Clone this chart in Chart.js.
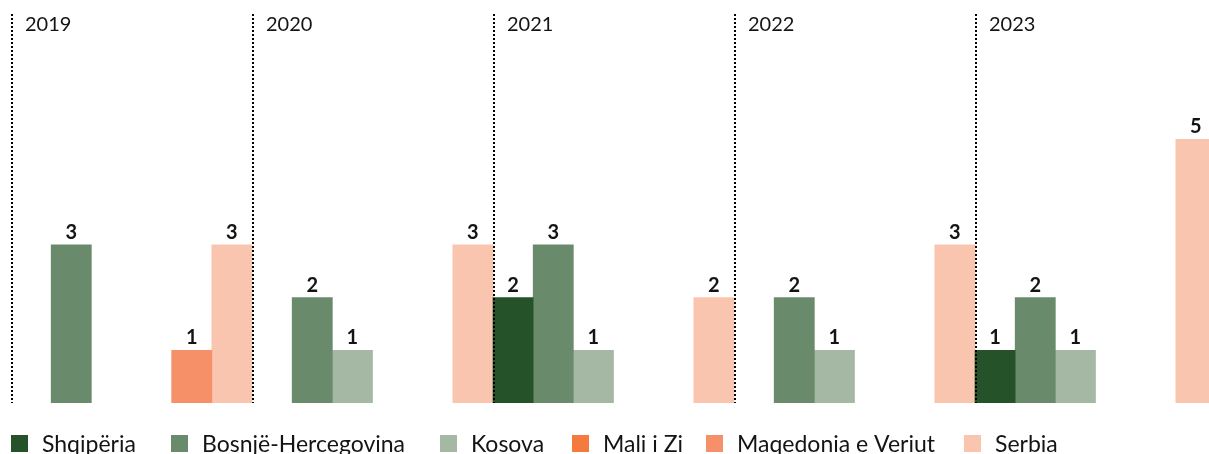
<!DOCTYPE html>
<html>
<head>
<meta charset="utf-8">
<script src="https://cdn.jsdelivr.net/npm/chart.js@4/dist/chart.umd.min.js"></script>
<style>
  html, body { margin: 0; padding: 0; background: #fff; overflow: hidden; }
  #wrap { width: 1209px; height: 454px; overflow: hidden; }
</style>
</head>
<body>
<div id="wrap"><canvas id="c" width="1226" height="454"></canvas></div>
<script>
// Years (one group each) and the count for each country per year
const years = ['2019', '2020', '2021', '2022', '2023'];
const shqiperia = [null, null, 2, null, 1];
const bosnje    = [3, 2, 3, 2, 2];
const kosova    = [null, 1, 1, 1, 1];
const maliIZi   = [null, null, null, null, null];
const maqedonia = [1, null, null, null, null];
const serbia    = [3, 3, 2, 3, 5];

const seriesNames = ['Shqipëria', 'Bosnjë-Hercegovina', 'Kosova', 'Mali i Zi', 'Maqedonia e Veriut', 'Serbia'];
const seriesData = [shqiperia, bosnje, kosova, maliIZi, maqedonia, serbia];
const seriesColors = ['#26522a', '#6a8a6c', '#a4b8a3', '#f47a40', '#f59068', '#fac5ae'];

const FONT = 'Lato, "DejaVu Sans", sans-serif';
const INK = '#141414';

// Dotted separators and year captions at the left edge of each group
const groupPlugin = {
  id: 'groups',
  afterDatasetsDraw(chart) {
    const { ctx, chartArea, scales } = chart;
    const x = scales.x;
    const n = years.length;
    const w = (chartArea.right - chartArea.left) / n;
    ctx.save();
    for (let i = 0; i < n; i++) {
      const gx = Math.round(x.getPixelForValue(i) - w / 2) + 1;
      ctx.strokeStyle = '#000';
      ctx.lineWidth = 2;
      ctx.setLineDash([2, 2]);
      ctx.beginPath();
      ctx.moveTo(gx, 14);
      ctx.lineTo(gx, chartArea.bottom);
      ctx.stroke();
      ctx.setLineDash([]);
      ctx.fillStyle = INK;
      ctx.font = '20px ' + FONT;
      ctx.textAlign = 'left';
      ctx.textBaseline = 'middle';
      ctx.fillText(years[i], gx + 13, 25);
    }
    ctx.restore();
  }
};

// Value captions above every bar
const valuePlugin = {
  id: 'values',
  afterDatasetsDraw(chart) {
    const { ctx } = chart;
    ctx.save();
    ctx.fillStyle = INK;
    ctx.font = 'bold 20px ' + FONT;
    ctx.textAlign = 'center';
    ctx.textBaseline = 'alphabetic';
    chart.data.datasets.forEach((ds, di) => {
      const meta = chart.getDatasetMeta(di);
      meta.data.forEach((bar, i) => {
        const v = ds.data[i];
        if (v === null || v === undefined) return;
        ctx.fillText(String(v), bar.x, bar.y - 6);
      });
    });
    ctx.restore();
  }
};

// Legend row along the bottom; left edge of each swatch
const legendX = [11, 171, 440, 572, 706, 964];
const legendPlugin = {
  id: 'legendRow',
  afterDraw(chart) {
    const { ctx } = chart;
    ctx.save();
    ctx.font = '23px ' + FONT;
    ctx.textBaseline = 'alphabetic';
    ctx.textAlign = 'left';
    chart.data.datasets.forEach((ds, i) => {
      const x = legendX[i];
      ctx.fillStyle = ds.backgroundColor;
      ctx.fillRect(x, 435, 17, 17);
      ctx.fillStyle = INK;
      ctx.fillText(ds.label, x + 31, 452);
    });
    ctx.restore();
  }
};

new Chart(document.getElementById('c'), {
  type: 'bar',
  data: {
    labels: years,
    datasets: seriesNames.map((name, i) => ({
      label: name,
      data: seriesData[i],
      backgroundColor: seriesColors[i],
      borderWidth: 0,
      categoryPercentage: 1,
      barPercentage: 1
    }))
  },
  options: {
    responsive: false,
    devicePixelRatio: 1,
    animation: false,
    layout: { padding: { left: 11, right: 10, top: 34, bottom: 51 } },
    plugins: { legend: { display: false }, tooltip: { enabled: false } },
    scales: {
      x: { display: false },
      y: { display: false, min: 0, max: 7 }
    }
  },
  plugins: [groupPlugin, valuePlugin, legendPlugin]
});
</script>
</body>
</html>
